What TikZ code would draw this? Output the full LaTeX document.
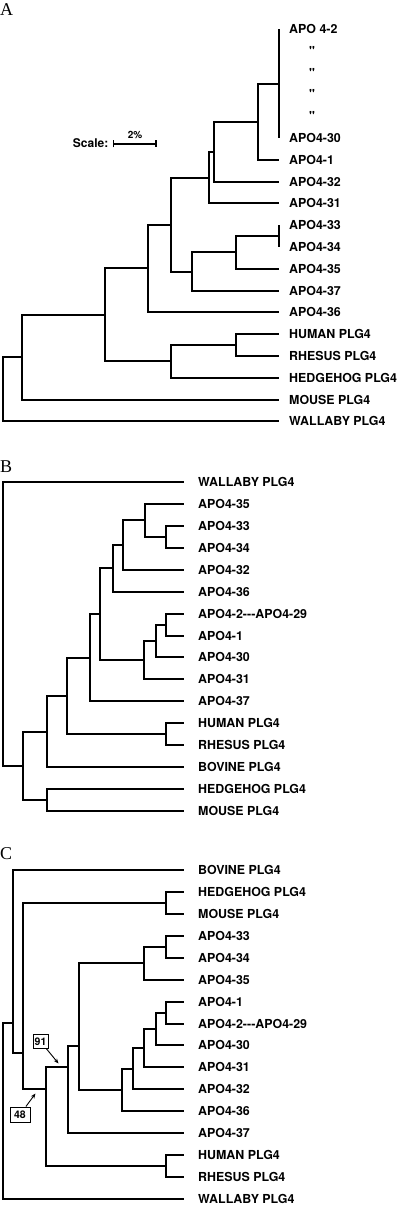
\documentclass[tikz,border=0pt]{standalone}
\usepackage{fontspec}
\newfontfamily\labfont{TeX Gyre Heros}[Ligatures=TeXOff]
\newfontfamily\letfont{Liberation Serif}
\usetikzlibrary{arrows.meta}
\newcommand\hy{\mbox{-}}
\begin{document}
\begin{tikzpicture}[x=1pt,y=-1pt,
  br/.style={line width=2pt, line join=miter},
  lab/.style={anchor=west, inner sep=0pt, text height=8.9pt, text depth=0pt, font=\labfont\bfseries\fontsize{12.4}{14}\selectfont},
  qt/.style={anchor=center, inner sep=0pt, text height=8.9pt, text depth=0pt, font=\labfont\bfseries\fontsize{12.4}{14}\selectfont},
  pl/.style={anchor=base west, inner sep=0pt, font=\letfont\fontsize{18}{20}\selectfont},
  boot/.style={draw, line width=0.9pt, inner sep=0pt, font=\labfont\bfseries\fontsize{10.5}{12}\selectfont},
  pt/.style={line width=0.9pt, -{Stealth[length=5pt,width=4pt]}}]
\path[fill=white] (0,0) rectangle (400,1209);
\useasboundingbox (0,0) rectangle (400,1209);

% ---------------- Panel A ----------------
\node[pl] (PA) at (0,16) {A};
\foreach \i/\y/\t in {0/29/APO 4-2, 5/138/APO4-30, 6/160/APO4-1, 7/182/APO4-32,
  8/203/APO4-31, 9/225/APO4-33, 10/247/APO4-34, 11/269/APO4-35, 12/291/APO4-37,
  13/312/APO4-36, 14/334/HUMAN PLG4, 15/356/RHESUS PLG4, 16/378/HEDGEHOG PLG4,
  17/400/MOUSE PLG4, 18/421/WALLABY PLG4}{
  \coordinate (A\i) at (279,\y);
  \node[lab] (LA\i) at (289,\y) {\t};
}
\foreach \i/\y in {1/51, 2/73, 3/94, 4/116}{
  \node[qt] (QA\i) at (312,\y) {"};
}
\coordinate (Ac1) at (279,84);
\coordinate (An1) at (258,122);
\coordinate (An2) at (214,152);
\coordinate (An3) at (209,178);
\coordinate (Ac2) at (279,236);
\coordinate (An6) at (236,252);
\coordinate (An5) at (192,272);
\coordinate (An4) at (171,225);
\coordinate (An7) at (148,268);
\coordinate (An10) at (236,345);
\coordinate (An9) at (171,361);
\coordinate (An8) at (105,315);
\coordinate (An11) at (22,357);
\coordinate (Aroot) at (3,389);
\foreach \p/\c in {Ac1/A0, Ac1/A5, An1/Ac1, An1/A6, An2/An1, An2/A7, An3/An2, An3/A8,
  Ac2/A9, Ac2/A10, An6/Ac2, An6/A11, An5/An6, An5/A12, An4/An3, An4/An5,
  An7/An4, An7/A13, An10/A14, An10/A15, An9/An10, An9/A16, An8/An7, An8/An9,
  An11/An8, An11/A17, Aroot/An11, Aroot/A18}{
  \draw[br] (\p) |- (\c);
}
% scale bar
\node[anchor=base east, inner sep=0pt, font=\labfont\bfseries\fontsize{12}{14}\selectfont] (scl) at (108.5,148) {Scale:};
\coordinate (s1) at (112.5,144);
\coordinate (s2) at (156.5,144);
\draw[line width=1.4pt, {Bar[width=7pt]}-{Bar[width=7pt]}] (s1) -- (s2);
\node[anchor=base, inner sep=0pt, font=\labfont\bfseries\fontsize{10}{12}\selectfont] (pct) at (135,138.5) {2\%};

% ---------------- Panel B ----------------
\node[pl] (PB) at (0,472) {B};
\foreach \i/\y/\t in {0/482/WALLABY PLG4, 1/504/APO4-35, 2/526/APO4-33, 3/548/APO4-34,
  4/570/APO4-32, 5/592/APO4-36, 6/614/APO4-2\hy\hy\hy APO4-29, 7/636/APO4-1,
  8/657/APO4-30, 9/679/APO4-31, 10/701/APO4-37, 11/723/HUMAN PLG4,
  12/745/RHESUS PLG4, 13/767/BOVINE PLG4, 14/789/HEDGEHOG PLG4, 15/811/MOUSE PLG4}{
  \coordinate (B\i) at (184,\y);
  \node[lab] (LB\i) at (198,\y) {\t};
}
\coordinate (Bb1) at (166,537);
\coordinate (Bb2) at (145,520);
\coordinate (Bb3) at (123,545);
\coordinate (Bb4) at (113,568);
\coordinate (Bb5) at (166,625);
\coordinate (Bb6) at (156,641);
\coordinate (Bb7) at (144,660);
\coordinate (Bb8) at (100,614);
\coordinate (Bb9) at (90,658);
\coordinate (Bb10) at (166,734);
\coordinate (Bb11) at (67,696);
\coordinate (Bb12) at (47,732);
\coordinate (Bb13) at (47,800);
\coordinate (Bb14) at (23,766);
\coordinate (Broot) at (3,624);
\foreach \p/\c in {Bb1/B2, Bb1/B3, Bb2/B1, Bb2/Bb1, Bb3/Bb2, Bb3/B4, Bb4/Bb3, Bb4/B5,
  Bb5/B6, Bb5/B7, Bb6/Bb5, Bb6/B8, Bb7/Bb6, Bb7/B9, Bb8/Bb4, Bb8/Bb7, Bb9/Bb8, Bb9/B10,
  Bb10/B11, Bb10/B12, Bb11/Bb9, Bb11/Bb10, Bb12/Bb11, Bb12/B13, Bb13/B14, Bb13/B15,
  Bb14/Bb12, Bb14/Bb13, Broot/B0, Broot/Bb14}{
  \draw[br] (\p) |- (\c);
}

% ---------------- Panel C ----------------
\node[pl] (PC) at (0,859.5) {C};
\foreach \i/\y/\t in {0/870/BOVINE PLG4, 1/892/HEDGEHOG PLG4, 2/914/MOUSE PLG4,
  3/936/APO4-33, 4/958/APO4-34, 5/980/APO4-35, 6/1002/APO4-1,
  7/1024/APO4-2\hy\hy\hy APO4-29, 8/1045/APO4-30, 9/1067/APO4-31, 10/1089/APO4-32,
  11/1111/APO4-36, 12/1133/APO4-37, 13/1155/HUMAN PLG4, 14/1177/RHESUS PLG4,
  15/1199/WALLABY PLG4}{
  \coordinate (C\i) at (184,\y);
  \node[lab] (LC\i) at (198,\y) {\t};
}
\coordinate (Cca) at (166,903);
\coordinate (Ccb) at (166,947);
\coordinate (Ccc) at (144,963);
\coordinate (Ccd) at (166,1013);
\coordinate (Cce) at (156,1029);
\coordinate (Ccf) at (144,1048);
\coordinate (Ccg) at (133,1069);
\coordinate (Cch) at (122,1090);
\coordinate (Cci) at (79,1046);
\coordinate (Ccj) at (68,1067);
\coordinate (Ccl) at (166,1166);
\coordinate (Cck) at (46,1089);
\coordinate (Ccm) at (23,1053);
\coordinate (Ccn) at (13,1023);
\coordinate (Croot) at (3,1111);
\foreach \p/\c in {Cca/C1, Cca/C2, Ccb/C3, Ccb/C4, Ccc/Ccb, Ccc/C5, Ccd/C6, Ccd/C7,
  Cce/Ccd, Cce/C8, Ccf/Cce, Ccf/C9, Ccg/Ccf, Ccg/C10, Cch/Ccg, Cch/C11, Cci/Ccc, Cci/Cch,
  Ccj/Cci, Ccj/C12, Ccl/C13, Ccl/C14, Cck/Ccj, Cck/Ccl, Ccm/Cca, Ccm/Cck,
  Ccn/C0, Ccn/Ccm, Croot/Ccn, Croot/C15}{
  \draw[br] (\p) |- (\c);
}
% bootstrap values
\node[boot, minimum width=15pt, minimum height=13.5pt] (b91) at (40.5,1041.5) {91};
\node[boot, minimum width=20pt, minimum height=15pt] (b48) at (20,1114.5) {48};
\coordinate (p91) at (58.5,1063.5);
\coordinate (p48) at (35.5,1093.5);
\draw[pt] (b91) -- (p91);
\draw[pt] (b48) -- (p48);
\end{tikzpicture}
\end{document}
